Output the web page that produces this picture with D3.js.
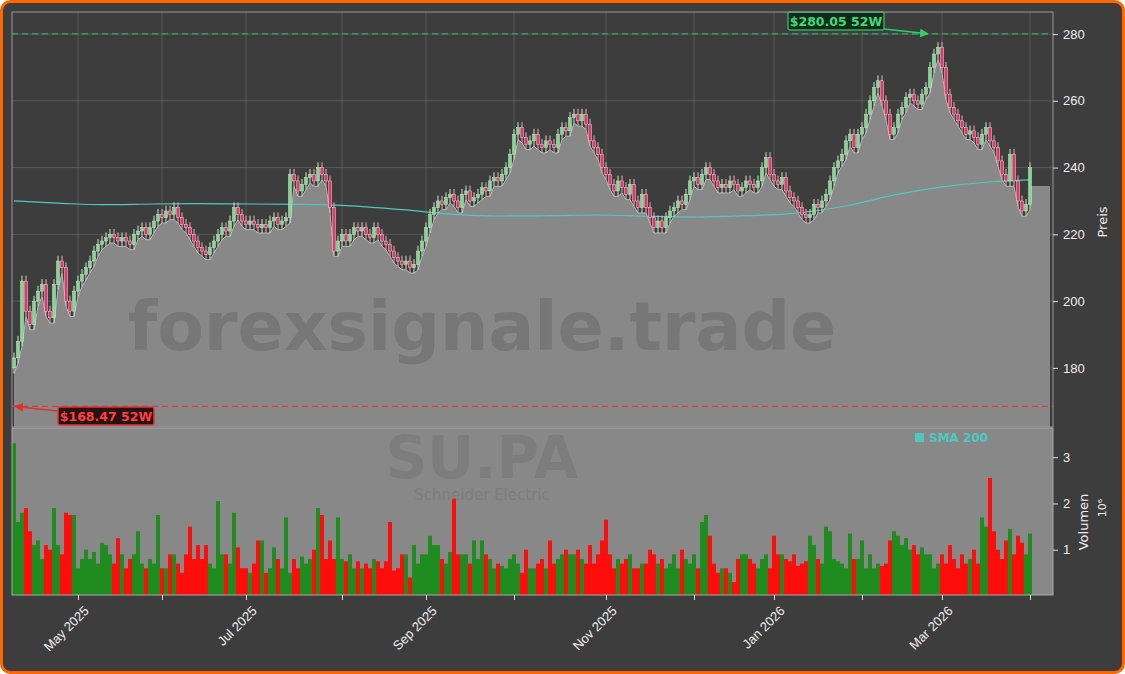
<!DOCTYPE html>
<html><head><meta charset="utf-8">
<script src="https://cdn.jsdelivr.net/npm/d3@7"></script>
<style>
body{margin:0;background:#fff;}
svg{display:block;font-family:"DejaVu Sans",sans-serif;}
</style></head>
<body><svg id="chart"></svg>
<script>
// closing prices per trading day (EUR)
const closes = [
  183,188,206,197,193,200,203,205,197,195,205,212,
  210,200,197,203,206,208,210,212,215,217,
  218,219,220,219,218,219,218,217,220,221,
  222,220,222,224,226,225,227,226,228,225,
  223,222,220,218,216,215,214,216,218,220,
  222,221,224,228,226,224,223,224,223,222,
  223,222,224,225,223,224,225,238,236,233,
  235,237,238,236,240,238,236,228,215,218,
  220,218,220,222,221,222,220,219,222,220,
  218,217,215,213,212,211,212,210,211,215,
  218,222,226,228,230,229,231,232,230,228,
  232,233,230,231,232,234,233,236,237,236,
  238,240,244,250,252,249,247,248,250,247,
  246,248,247,246,250,252,251,255,256,254,
  256,253,248,246,244,240,238,235,233,236,
  234,232,235,230,228,232,228,225,222,224,
  222,225,227,228,230,229,232,236,237,235,
  238,240,238,236,234,235,234,236,235,233,
  234,236,235,234,236,240,243,238,236,235,
  237,233,231,230,228,226,225,226,229,228,
  230,232,236,240,242,244,248,250,246,250,
  252,256,260,264,266,260,256,250,252,256,
  258,261,262,260,259,262,264,270,274,276,
  270,262,258,256,254,252,250,251,249,247,
  250,252,248,246,242,238,236,244,236,230,227,229,240
];
// volume per trading day, millions
const volumes = [
  3.3,1.6,1.8,1.9,1.4,1.1,1.2,0.8,1.1,1.0,1.9,1.1,
  0.9,1.8,1.75,1.75,0.6,0.8,1.0,0.8,0.95,0.7,
  1.15,1.1,0.9,0.7,1.25,0.9,0.6,0.8,0.9,1.4,
  0.7,0.6,0.8,0.7,1.75,0.6,0.6,0.9,0.9,0.7,
  0.5,0.9,1.5,0.8,1.1,0.8,1.1,0.7,0.6,2.05,
  0.9,0.9,0.7,1.8,1.05,0.6,0.6,0.5,0.7,1.2,
  1.2,0.5,0.6,1.05,0.8,0.6,1.7,0.5,0.8,0.6,
  0.85,0.7,0.8,1.0,1.9,1.75,0.8,1.2,0.8,1.7,
  0.8,0.75,0.9,0.6,0.75,0.6,0.7,0.6,0.8,0.75,
  0.6,0.75,1.6,0.55,0.6,0.9,0.9,0.4,1.1,0.7,
  0.9,0.9,1.3,1.1,1.1,0.8,0.7,0.95,2.1,0.9,
  0.9,0.9,0.7,1.2,0.8,1.2,0.9,0.8,0.6,0.7,
  0.65,0.6,0.8,0.9,0.7,0.5,1.0,0.6,0.6,0.7,
  0.8,0.6,1.2,0.7,0.8,0.9,1.0,0.9,0.9,1.0,
  0.8,0.7,1.1,0.7,0.9,1.2,1.65,0.9,0.6,0.8,
  0.7,0.8,0.9,0.6,0.6,0.7,0.7,1.0,0.9,0.7,
  0.8,0.6,0.7,0.9,0.6,1.0,0.8,0.7,0.9,0.6,
  1.6,1.75,1.3,0.7,0.5,0.6,0.6,0.5,0.3,0.8,
  0.9,0.9,0.8,0.7,0.6,0.8,0.9,0.6,1.3,0.9,
  0.9,0.8,0.75,0.9,0.65,0.7,0.75,1.3,1.1,0.8,
  0.7,1.5,1.4,0.8,0.75,0.7,0.6,1.35,0.8,0.8,
  1.2,0.6,0.9,0.6,0.7,0.65,0.7,1.2,1.4,1.3,
  1.1,1.25,1.0,1.1,0.9,1.05,0.9,0.9,0.6,0.7,
  0.9,0.7,1.1,0.8,0.6,0.9,0.7,0.8,1.0,0.7,
  1.7,1.5,2.55,1.4,1.0,0.8,1.2,1.45,0.9,1.3,1.15,0.9,1.35
];
// SMA 200 anchor points: bar index and value
const smaIdx = [0,12,22,35,46,59,72,82,97,110,121,134,146,159,171,183,195,208,219,232,243,254];
const smaVal = [230,229.3,228.9,229.1,229.2,229.1,229,228.7,227.4,226,225.5,225.6,225.8,225.4,225.2,225.6,226.3,228.5,231.5,234.2,235.6,236.3];
// month ticks: label and bar index of the first trading day
const tickLabels = ["May 2025","Jun 2025","Jul 2025","Aug 2025","Sep 2025","Oct 2025","Nov 2025","Dec 2025","Jan 2026","Feb 2026","Mar 2026","Apr 2026"];
const tickIdx = [16,37,58,82,103,125,148,170,190,212,232,254];
const high52 = 280.05, low52 = 168.47;

const W = 1125, H = 674;
const left = 12, right = 1053, pTop = 12, pBot = 427, vTop = 428, vBot = 595;
const svg = d3.select("#chart").attr("width", W).attr("height", H);

svg.append("rect").attr("x",1.5).attr("y",1.5).attr("width",W-3).attr("height",H-3)
  .attr("rx",9).attr("fill","#3d3d3d").attr("stroke","#ff6600").attr("stroke-width",3);

const N = closes.length;
const x = d3.scaleLinear().domain([0, N-1]).range([14, 1030]);
const y = d3.scaleLinear().domain([162.3, 286.6]).range([pBot, pTop]);
const yv = d3.scaleLinear().domain([0, 3.63]).range([596, vTop]);

const bars = closes.map((c, i) => {
  const o = i === 0 ? 180 : closes[i-1];
  return {i, o, c, h: Math.max(o,c)+1.6, l: Math.min(o,c)-1.6, v: volumes[i] || 0};
});

// panels
svg.append("rect").attr("x",left).attr("y",pTop).attr("width",right-left).attr("height",pBot-pTop).attr("fill","#3d3d3d");
svg.append("rect").attr("x",left).attr("y",vTop).attr("width",right-left).attr("height",vBot-vTop).attr("fill","#888");

// grid
const g = svg.append("g");
[180,200,220,240,260,280].forEach(p => g.append("line").attr("x1",left).attr("x2",right)
  .attr("y1",y(p)).attr("y2",y(p)).attr("stroke","#5f5f5f").attr("stroke-width",0.8));
tickIdx.forEach(t => g.append("line").attr("x1",x(t)).attr("x2",x(t))
  .attr("y1",pTop).attr("y2",pBot).attr("stroke","#5f5f5f").attr("stroke-width",0.8));

// area under lows, with flat tail to the right edge
const areaPts = [...bars.map(b => [x(b.i), y(b.l)]), [x(N-1)+1, y(234.5)], [right-3, y(234.5)]];
svg.append("path").attr("d", d3.area().x(d=>d[0]).y0(pBot).y1(d=>d[1])(areaPts)).attr("fill","#888");
svg.append("path").attr("d", d3.line()(bars.map(b=>[x(b.i), y(b.l)])))
  .attr("fill","none").attr("stroke","#b8b8b8").attr("stroke-width",1);

// watermark
svg.append("text").attr("x",482).attr("y",350).attr("text-anchor","middle")
  .attr("font-size",68).attr("font-weight","bold").attr("fill","#777").text("forexsignale.trade");

// SMA
svg.append("path").attr("d", d3.line().curve(d3.curveMonotoneX)
  .x((d,k)=>x(smaIdx[k])).y(d=>y(d))(smaVal))
  .attr("fill","none").attr("stroke","#4fc9bf").attr("stroke-width",1.2);

// candles
const cg = svg.append("g");
cg.selectAll("line").data(bars).enter().append("line")
  .attr("x1",d=>x(d.i)).attr("x2",d=>x(d.i)).attr("y1",d=>y(d.h)).attr("y2",d=>y(d.l))
  .attr("stroke",d=>d.c>=d.o?"#c8e6c8":"#e8b0bc").attr("stroke-width",1);
cg.selectAll("rect").data(bars).enter().append("rect")
  .attr("x",d=>x(d.i)-1.5).attr("width",3)
  .attr("y",d=>y(Math.max(d.o,d.c))).attr("height",d=>Math.max(1.5, Math.abs(y(d.o)-y(d.c))))
  .attr("fill",d=>d.c>=d.o?"#7ddc8a":"#f0306a").attr("stroke","#dddddd").attr("stroke-width",0.5);

// 52W lines
svg.append("line").attr("x1",left).attr("x2",right).attr("y1",y(high52)).attr("y2",y(high52))
  .attr("stroke","#2fae5a").attr("stroke-dasharray","6,4").attr("stroke-width",1.3);
svg.append("line").attr("x1",left).attr("x2",right).attr("y1",y(low52)).attr("y2",y(low52))
  .attr("stroke","#d93a3a").attr("stroke-dasharray","6,4").attr("stroke-width",1.3);

const defs = svg.append("defs");
[["ag","#2fcf6a"],["ar","#e03030"]].forEach(([id,c]) => defs.append("marker").attr("id",id)
  .attr("viewBox","0 0 10 10").attr("refX",9).attr("refY",5).attr("markerWidth",6).attr("markerHeight",6)
  .attr("orient","auto").append("path").attr("d","M0,0L10,5L0,10z").attr("fill",c));
svg.append("line").attr("x1",884).attr("y1",29).attr("x2",928).attr("y2",y(high52))
  .attr("stroke","#2fcf6a").attr("stroke-width",1.5).attr("marker-end","url(#ag)");
svg.append("line").attr("x1",58).attr("y1",411).attr("x2",15).attr("y2",y(low52))
  .attr("stroke","#e03030").attr("stroke-width",1.5).attr("marker-end","url(#ar)");
function badge(bx, by, txt, fg, bg, border){
  svg.append("rect").attr("x",bx).attr("y",by).attr("width",96).attr("height",18).attr("rx",2)
    .attr("fill",bg).attr("stroke",border).attr("stroke-width",1.5);
  svg.append("text").attr("x",bx+48).attr("y",by+13.5).attr("text-anchor","middle")
    .attr("font-size",12.5).attr("font-weight","bold").attr("fill",fg).text(txt);
}
badge(788,12,"$" + high52.toFixed(2) + " 52W","#3ddc7a","#0e2a18","#2fae5a");
badge(58,407,"$" + low52.toFixed(2) + " 52W","#ff4040","#2a1010","#d93a3a");

// volume
svg.append("text").attr("x",482).attr("y",478).attr("text-anchor","middle")
  .attr("font-size",58).attr("font-weight","bold").attr("fill","#7d7d7d").text("SU.PA");
svg.append("text").attr("x",482).attr("y",500).attr("text-anchor","middle")
  .attr("font-size",15).attr("fill","#7d7d7d").text("Schneider Electric");
svg.append("g").selectAll("rect").data(bars).enter().append("rect")
  .attr("x",d=>x(d.i)-2).attr("width",4).attr("y",d=>yv(d.v)).attr("height",d=>vBot-yv(d.v))
  .attr("fill",d=>d.c>=d.o?"#1e8c1e":"#ff0d0d");
svg.append("rect").attr("x",915).attr("y",433).attr("width",9).attr("height",9).attr("fill","#4fc9bf");
svg.append("text").attr("x",929).attr("y",442).attr("font-size",12).attr("font-weight","bold")
  .attr("fill","#4fc9bf").text("SMA 200");

// frames
svg.append("rect").attr("x",left).attr("y",pTop).attr("width",right-left).attr("height",pBot-pTop)
  .attr("fill","none").attr("stroke","#9a9a9a").attr("stroke-width",1);
svg.append("rect").attr("x",left).attr("y",vTop).attr("width",right-left).attr("height",vBot-vTop)
  .attr("fill","none").attr("stroke","#aaa").attr("stroke-width",1);

// axes
const axStyle = sel => { sel.selectAll("text").attr("fill","#eee").attr("font-size",13);
  sel.selectAll("line").attr("stroke","#ddd"); sel.select(".domain").remove(); };
svg.append("g").attr("transform",`translate(${right},0)`)
  .call(d3.axisRight(y).tickValues([180,200,220,240,260,280]).tickSize(5).tickPadding(5)).call(axStyle);
svg.append("g").attr("transform",`translate(${right},0)`)
  .call(d3.axisRight(yv).tickValues([1,2,3]).tickFormat(d3.format("d")).tickSize(5).tickPadding(5)).call(axStyle);
const xa = svg.append("g").attr("transform",`translate(0,${vBot})`)
  .call(d3.axisBottom(x).tickValues(tickIdx).tickSize(5).tickFormat((d,k)=>k%2===0?tickLabels[k]:""))
  .call(axStyle);
xa.selectAll("text").attr("text-anchor","end").attr("dx","-0.3em").attr("dy","0.9em")
  .attr("transform","rotate(-45)");

svg.append("text").attr("transform","translate(1107,222) rotate(-90)").attr("text-anchor","middle")
  .attr("font-size",13).attr("fill","#eee").text("Preis");
svg.append("text").attr("transform","translate(1088,522) rotate(-90)").attr("text-anchor","middle")
  .attr("font-size",13).attr("fill","#eee").text("Volumen");
svg.append("text").attr("transform","translate(1106,508) rotate(-90)").attr("text-anchor","middle")
  .attr("font-size",11).attr("fill","#eee").text("10⁶");
</script></body></html>
